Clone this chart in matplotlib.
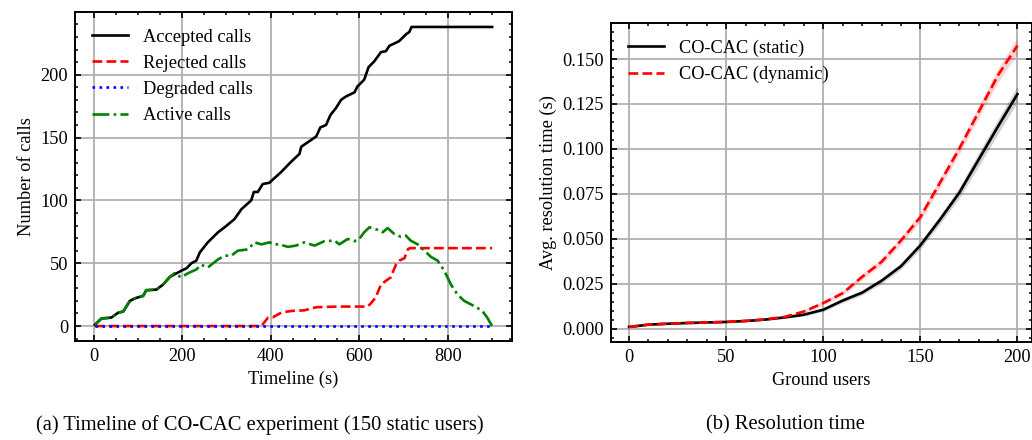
import numpy as np
import matplotlib
matplotlib.use("Agg")
import matplotlib.pyplot as plt
from matplotlib.ticker import AutoMinorLocator

# ---------------- data
# (a) timeline of the CO-CAC experiment
acc_t = [3, 18, 40, 56, 67, 82, 93, 112, 119, 142, 157, 172, 198, 210, 221, 232, 240, 258,
         281, 296, 318, 334, 356, 362, 371, 382, 397, 424, 446, 465, 469, 491, 503, 512,
         525, 535, 547, 559, 570, 589, 596, 611, 621, 634, 649, 660, 668, 690, 705, 713,
         718, 900]
acc_v = [1, 6, 6.7, 10.7, 11.5, 20, 22, 24, 28.5, 29, 33, 39, 44, 46, 50, 52, 58.6, 66.6,
         74.6, 78.6, 85, 93, 100, 106.7, 106.7, 113, 114, 122.7, 130.7, 137, 142.7, 148,
         151, 158, 160, 168, 173.3, 180, 182.7, 185.9, 190.7, 196, 206, 210.7, 218, 218.7,
         223, 226.7, 232, 234, 238, 238]

rej_t = [3, 379, 394, 405, 424, 446, 476, 503, 551, 619, 626, 637, 649, 660, 671, 683,
         690, 702, 710, 715, 900]
rej_v = [0, 0, 6.7, 7, 10.7, 12, 12.5, 15, 15.5, 15.5, 18, 22.7, 33, 36, 38.7, 49,
         52, 54, 61.3, 62, 62]

deg_t = [3, 900]
deg_v = [0, 0]

act_t = [3, 18, 40, 56, 67, 82, 93, 112, 119, 142, 157, 172, 183, 198, 213, 232, 243, 258,
         281, 296, 311, 326, 349, 363, 379, 397, 408, 420, 439, 457, 476, 499, 521, 544,
         555, 574, 589, 600, 611, 623, 642, 653, 664, 679, 694, 705, 716, 732, 747, 762,
         777, 792, 807, 822, 837, 859, 878, 889, 900]
act_v = [1, 6, 6.7, 10.7, 11.5, 20, 22, 24, 28.5, 29, 33, 39, 42, 38.7, 42, 45, 48.8, 46.6,
         53, 56, 56, 60, 61, 66.6, 65, 66.6, 65, 65, 63, 64, 66.6, 64, 67.5, 68,
         65, 69.3, 67.5, 69.3, 74.6, 78.6, 76.5, 74.6, 78, 73.3, 71, 72, 68, 65, 60, 55,
         52, 44, 33, 25, 20, 16, 12, 6.7, 0]

# (b) resolution time vs ground users
users = [0, 10, 20, 30, 40, 50, 60, 70, 80, 90, 100, 110, 120, 130, 140, 150, 160, 170,
         180, 190, 200]
static_mean = [0.0009, 0.0022, 0.0027, 0.0031, 0.0034, 0.0037, 0.0042, 0.0050, 0.0062,
               0.0077, 0.0105, 0.0156, 0.0200, 0.0266, 0.0347, 0.0463, 0.0605, 0.0755,
               0.0940, 0.1125, 0.1305]
static_std = [0.0003, 0.0003, 0.0003, 0.0003, 0.0003, 0.0003, 0.0003, 0.0004, 0.0005,
              0.0007, 0.0009, 0.0012, 0.0013, 0.0015, 0.0017, 0.0020, 0.0024, 0.0030,
              0.0038, 0.0040, 0.0045]
dynamic_mean = [0.0009, 0.0022, 0.0027, 0.0031, 0.0034, 0.0037, 0.0043, 0.0051, 0.0065,
                0.0095, 0.0142, 0.0197, 0.0288, 0.0371, 0.0490, 0.0620, 0.0810, 0.1000,
                0.1205, 0.1410, 0.1575]
dynamic_std = [0.0003, 0.0003, 0.0003, 0.0003, 0.0003, 0.0003, 0.0003, 0.0004, 0.0005,
               0.0008, 0.0010, 0.0013, 0.0016, 0.0018, 0.0021, 0.0024, 0.0027, 0.0030,
               0.0033, 0.0038, 0.0045]

# ---------------- style
plt.rcParams['font.family'] = 'serif'
plt.rcParams['font.serif'] = ['Liberation Serif', 'DejaVu Serif']
plt.rcParams['mathtext.fontset'] = 'stix'
plt.rcParams['font.size'] = 13.2
plt.rcParams['axes.linewidth'] = 1.4
plt.rcParams['xtick.direction'] = 'in'
plt.rcParams['ytick.direction'] = 'in'
plt.rcParams['xtick.top'] = True
plt.rcParams['ytick.right'] = True
plt.rcParams['xtick.major.size'] = 4.5
plt.rcParams['ytick.major.size'] = 4.5
plt.rcParams['xtick.minor.size'] = 2.5
plt.rcParams['ytick.minor.size'] = 2.5
plt.rcParams['xtick.major.width'] = 1.2
plt.rcParams['ytick.major.width'] = 1.2
plt.rcParams['xtick.minor.width'] = 1.1
plt.rcParams['ytick.minor.width'] = 1.1
plt.rcParams['xtick.major.pad'] = 5
plt.rcParams['ytick.major.pad'] = 5
plt.rcParams['legend.frameon'] = False
plt.rcParams['axes.grid'] = True
plt.rcParams['grid.color'] = '#b0b0b0'
plt.rcParams['grid.linewidth'] = 1.3

fig = plt.figure(figsize=(10.32, 4.4), dpi=100)
ax1 = fig.add_axes([75/1032, 99/440, 437/1032, 329/440])
ax2 = fig.add_axes([611/1032, 98/440, 421/1032, 319/440])

lw = 1.9
ax1.plot(acc_t, acc_v, '-', color='black', lw=lw, label='Accepted calls')
ax1.plot(rej_t, rej_v, '--', color='red', lw=lw, label='Rejected calls')
ax1.plot(deg_t, deg_v, ':', color='blue', lw=lw, label='Degraded calls')
ax1.plot(act_t, act_v, '-.', color='green', lw=lw, label='Active calls')
ax1.set_xlabel('Timeline (s)')
ax1.set_ylabel('Number of calls')
ax1.set_xticks([0, 200, 400, 600, 800])
ax1.set_yticks([0, 50, 100, 150, 200])
ax1.legend(loc='upper left')

users = np.array(users)
sm, ss = np.array(static_mean), np.array(static_std)
dm, ds = np.array(dynamic_mean), np.array(dynamic_std)
ax2.plot(users, sm, '-', color='black', lw=lw, label='CO-CAC (static)')
ax2.fill_between(users, sm - ss, sm + ss, color='black', alpha=0.18, lw=0)
ax2.plot(users, dm, '--', color='red', lw=lw, label='CO-CAC (dynamic)')
ax2.fill_between(users, dm - ds, dm + ds, color='red', alpha=0.18, lw=0)
ax2.set_xlabel('Ground users')
ax2.set_ylabel('Avg. resolution time (s)')
ax2.set_xlim(-9.3, 207.5)
ax2.set_xticks([0, 50, 100, 150, 200])
ax2.set_yticks([0, 0.025, 0.05, 0.075, 0.1, 0.125, 0.15])
ax2.yaxis.set_major_formatter(matplotlib.ticker.FormatStrFormatter('%.3f'))
ax2.legend(loc='upper left')

for ax in (ax1, ax2):
    ax.xaxis.set_minor_locator(AutoMinorLocator())
    ax.yaxis.set_minor_locator(AutoMinorLocator())
    ax.set_axisbelow(True)

fig.text(260/1032, 1 - 425/440, '(a) Timeline of CO-CAC experiment (150 static users)',
         ha='center', va='center', fontsize=14.8)
fig.text(785/1032, 1 - 425/440, '(b) Resolution time',
         ha='center', va='center', fontsize=14.8)

fig.savefig('out.png', dpi=100)
